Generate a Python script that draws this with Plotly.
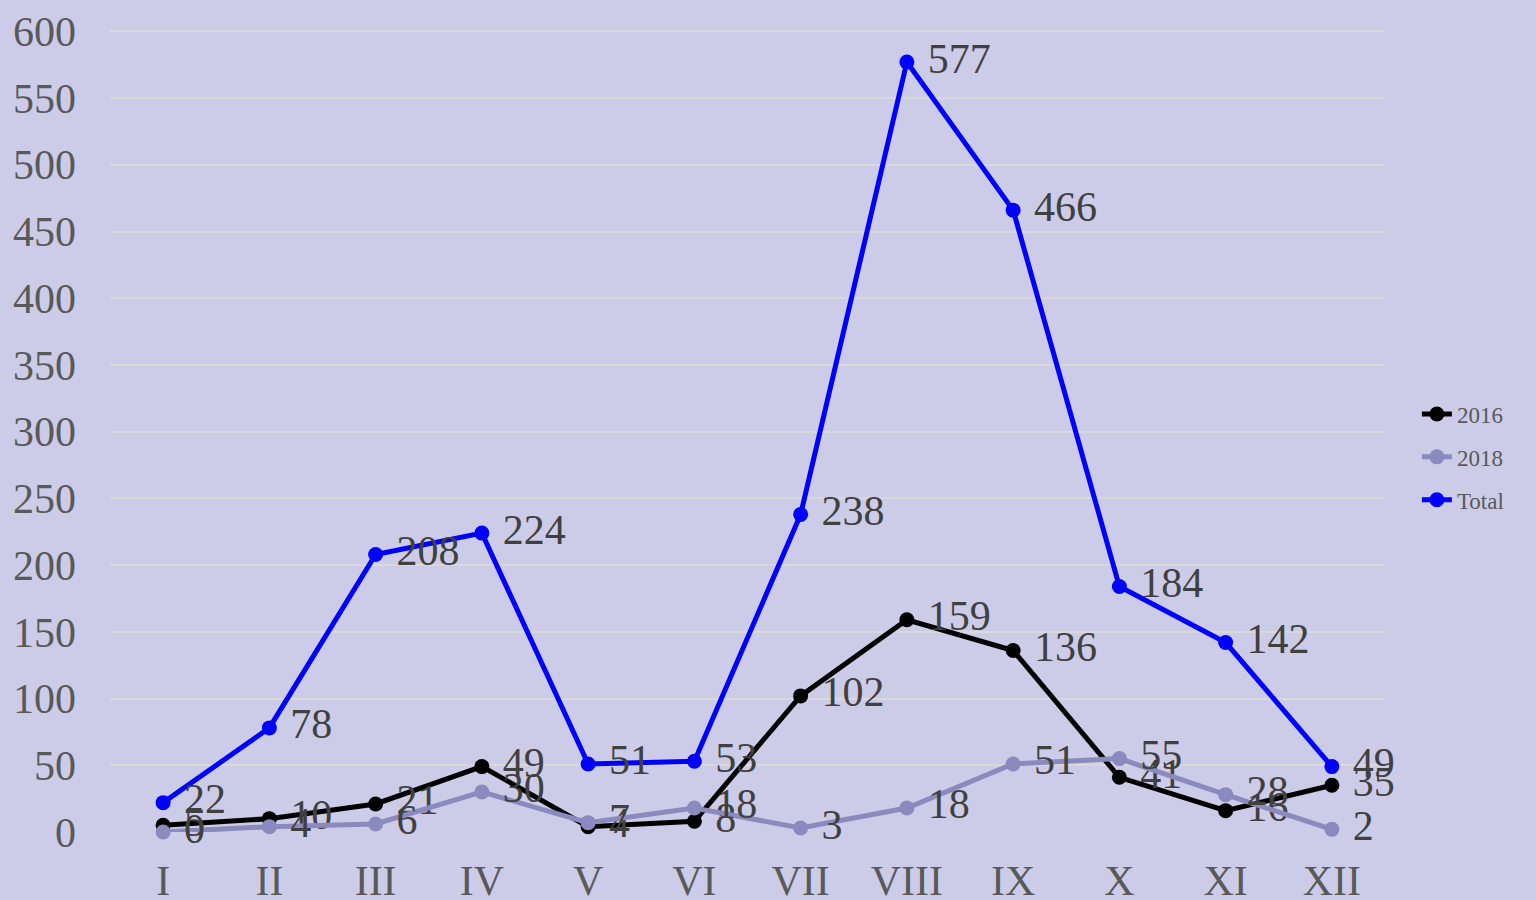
import plotly.graph_objects as go

months = ["I", "II", "III", "IV", "V", "VI", "VII", "VIII", "IX", "X", "XI", "XII"]
y2016 = [5, 10, 21, 49, 4, 8, 102, 159, 136, 41, 16, 35]
y2018 = [0, 4, 6, 30, 7, 18, 3, 18, 51, 55, 28, 2]
total = [22, 78, 208, 224, 51, 53, 238, 577, 466, 184, 142, 49]

FONT = "Liberation Serif, Times New Roman, serif"
LABEL_COLOR = "#404040"

series = [
    ("2016", y2016, "#000000"),
    ("2018", y2018, "#8A8ABE"),
    ("Total", total, "#0000FF"),
]

fig = go.Figure()
for name, vals, col in series:
    fig.add_trace(go.Scatter(
        x=months, y=vals, name=name, legendgroup=name,
        mode="lines+markers+text",
        line=dict(color=col, width=5),
        marker=dict(color=col, size=15),
        text=["\u00a0" + str(v) for v in vals],
        textposition="middle right",
        textfont=dict(family=FONT, size=42, color=LABEL_COLOR),
        cliponaxis=False,
    ))

fig.update_layout(
    width=1536, height=900,
    paper_bgcolor="#CCCCE8", plot_bgcolor="#CCCCE8",
    margin=dict(l=110, r=151, t=30, b=68),
    font=dict(family=FONT, color="#595959"),
    showlegend=True,
    legend=dict(
        x=1.025, y=0.4676, xanchor="left", yanchor="middle",
        font=dict(family=FONT, size=23, color="#595959"),
        bgcolor="rgba(0,0,0,0)", tracegroupgap=10, itemwidth=30,
    ),
)
fig.update_xaxes(
    type="category", range=[-0.5, 11.5], showgrid=False, zeroline=False,
    showline=False, ticks="", tickfont=dict(family=FONT, size=42, color="#595959"),
    ticklabelstandoff=20, automargin=False,
)
fig.update_yaxes(
    range=[0, 601], tickvals=list(range(0, 601, 50)), showgrid=True,
    gridcolor="#D9D9D9", gridwidth=2,
    zeroline=False, showline=False, ticks="",
    tickfont=dict(family=FONT, size=42, color="#595959"),
    ticklabelstandoff=33, automargin=False,
)

fig.write_html("out.html")
